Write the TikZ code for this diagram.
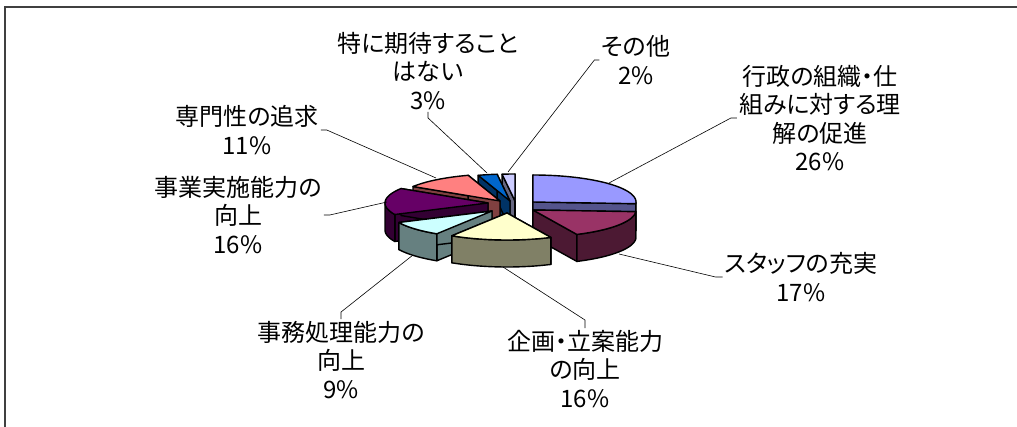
\documentclass[tikz,border=0pt]{standalone}
\usepackage{fontspec}
\setmainfont{Noto Sans CJK JP}[RawFeature=+palt]
\usepackage{tikz}
\usetikzlibrary{positioning}

\definecolor{colGyosei}{HTML}{9999FF}
\definecolor{colStaff}{HTML}{993366}
\definecolor{colKikaku}{HTML}{FFFFCC}
\definecolor{colJimu}{HTML}{CCFFFF}
\definecolor{colJigyo}{HTML}{660066}
\definecolor{colSenmon}{HTML}{FF8080}
\definecolor{colToku}{HTML}{0066CC}
\definecolor{colSonota}{HTML}{CCCCFF}
\colorlet{sideGyosei}{colGyosei!55!black}
\colorlet{sideStaff}{colStaff!50!black}
\colorlet{sideKikaku}{colKikaku!50!black}
\colorlet{sideJimu}{colJimu!50!black}
\colorlet{sideJigyo}{colJigyo!50!black}
\colorlet{sideSenmon}{colSenmon!50!black}
\colorlet{sideToku}{colToku!50!black}
\colorlet{sideSonota}{colSonota!50!black}

\tikzset{
  face/.style={draw=black,line width=1.4pt,line join=round},
  lbl/.style={align=center,inner sep=2pt,font=\fontsize{24}{28.5}\selectfont},
  leader/.style={draw=black,line width=0.6pt},
  frame/.style={draw=black!75,line width=1.6pt}
}

\begin{document}
\begin{tikzpicture}[x=1pt,y=-1pt]
\useasboundingbox (0,0) rectangle (1017,427);
\draw[frame] (5,427) -- (5,7) -- (1017,7);

\def\rx{103}\def\ry{27}\def\dep{27}
% slices, back to front
\foreach \cx/\cy/\ta/\tb/\tc/\sc in {515/201/352.8/360/colSonota/sideSonota,
  510/201/342/352.8/colToku/sideToku, 500/201/302.4/342/colSenmon/sideSenmon,
  533/202/0/93.6/colGyosei/sideGyosei, 488/203/244.8/302.4/colJigyo/sideJigyo,
  533/210/93.6/154.8/colStaff/sideStaff, 492/211/212.4/244.8/colJimu/sideJimu,
  507/213/154.8/212.4/colKikaku/sideKikaku}
{
  \path[face,fill=\sc] (\cx,\cy) -- ({\cx+\rx*sin(\ta)},{\cy-\ry*cos(\ta)}) -- ++(0,\dep) -- ({\cx},{\cy+\dep}) -- cycle;
  \path[face,fill=\sc] (\cx,\cy) -- ({\cx+\rx*sin(\tb)},{\cy-\ry*cos(\tb)}) -- ++(0,\dep) -- ({\cx},{\cy+\dep}) -- cycle;
  \pgfmathsetmacro\wa{max(\ta,90)}
  \pgfmathsetmacro\wb{min(\tb,270)}
  \pgfmathtruncatemacro\haswall{\wb>\wa}
  \ifnum\haswall=1
    \path[face,fill=\sc] plot[domain=\wa:\wb,samples=30] ({\cx+\rx*sin(\x)},{\cy-\ry*cos(\x)})
      -- plot[domain=\wb:\wa,samples=30] ({\cx+\rx*sin(\x)},{\cy+\dep-\ry*cos(\x)}) -- cycle;
  \fi
  \path[face,fill=\tc] (\cx,\cy) -- plot[domain=\ta:\tb,samples=40] ({\cx+\rx*sin(\x)},{\cy-\ry*cos(\x)}) -- cycle;
}

% where the leaders touch the pie
\coordinate (pGyosei) at (609,183);
\coordinate (pStaff) at (619,254);
\coordinate (pKikaku) at (503,267);
\coordinate (pJimu) at (413,255);
\coordinate (pJigyo) at (387,202);
\coordinate (pSenmon) at (436,178);
\coordinate (pToku) at (487,173);
\coordinate (pSonota) at (508,172);

% labels
\foreach \pos/\name/\txt in {(820,118)/lblGyosei/{行政の組織・仕\\組みに対する理\\解の促進\\26\%},
  (801,277)/lblStaff/{スタッフの充実\\17\%}, (585,369)/lblKikaku/{企画・立案能力\\の向上\\16\%},
  (341,360)/lblJimu/{事務処理能力の\\向上\\9\%}, (238,215)/lblJigyo/{事業実施能力の\\向上\\16\%},
  (247,130)/lblSenmon/{専門性の追求\\11\%}, (428,71)/lblToku/{特に期待すること\\はない\\3\%},
  (636,60)/lblSonota/{その他\\2\%}}
\node[lbl] (\name) at \pos {\txt};

% leaders
\foreach \lab/\anc/\dx/\dy/\pt in {lblGyosei/west/-6/0/pGyosei, lblStaff/west/-7/0/pStaff,
  lblKikaku/north/0/-8/pKikaku, lblJimu/north/0/-7/pJimu, lblJigyo/east/6/0/pJigyo,
  lblSenmon/east/6/0/pSenmon, lblToku/south/0/6/pToku, lblSonota/west/-5/0/pSonota}
\draw[leader] (\lab.\anc) -- ++(\dx,\dy) -- (\pt);

\end{tikzpicture}
\end{document}
